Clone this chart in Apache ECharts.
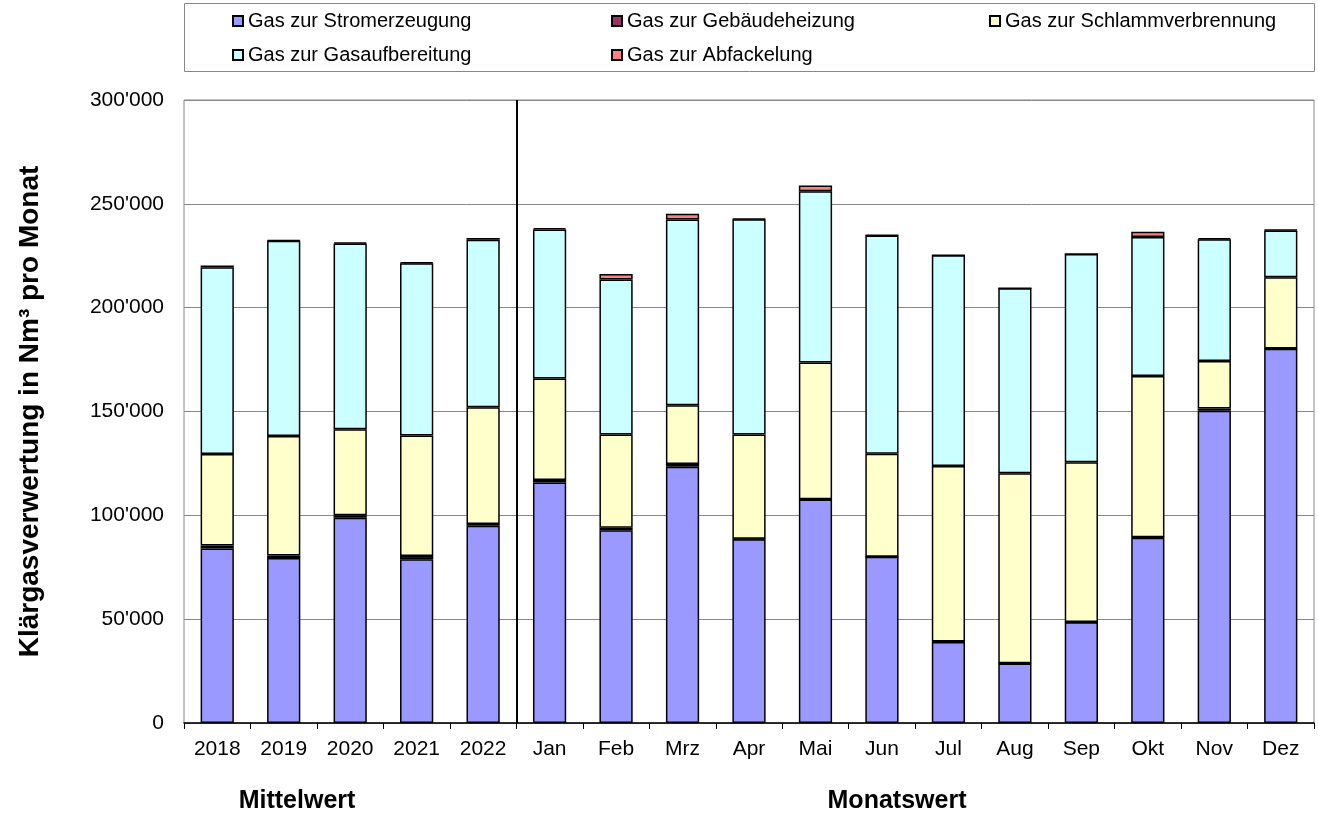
<!DOCTYPE html>
<html>
<head>
<meta charset="utf-8">
<title>Klärgasverwertung</title>
<script src="https://cdn.jsdelivr.net/npm/echarts@6/dist/echarts.min.js"></script>
<style>
html, body { margin: 0; padding: 0; background: #fff; }
#chart { width: 1318px; height: 819px; }
</style>
</head>
<body>
<div id="chart"></div>
<script>
const categories = ['2018', '2019', '2020', '2021', '2022', 'Jan', 'Feb', 'Mrz', 'Apr', 'Mai', 'Jun', 'Jul', 'Aug', 'Sep', 'Okt', 'Nov', 'Dez']
const stromerzeugung = [84000, 79500, 98800, 78800, 95000, 115800, 92800, 123400, 88500, 107600, 80000, 39000, 28700, 48500, 89200, 150400, 180200]
const gebaeudeheizung = [1500, 1200, 1200, 1600, 800, 1200, 1200, 1300, 200, 200, 100, 200, 100, 100, 200, 1000, 100]
const schlammverbrennung = [44000, 57500, 41400, 58000, 56300, 48900, 44900, 28300, 50200, 65800, 49500, 84600, 91500, 77000, 77700, 22900, 34400]
const gasaufbereitung = [90000, 94000, 89500, 83000, 80600, 71800, 74700, 89400, 103700, 82500, 105200, 101400, 89100, 100200, 66900, 58600, 22500]
const abfackelung = [800, 300, 500, 400, 800, 600, 2600, 2800, 300, 2700, 100, 100, 0, 0, 2500, 600, 300]

const seriesNames = ['Gas zur Stromerzeugung', 'Gas zur Gebäudeheizung', 'Gas zur Schlammverbrennung', 'Gas zur Gasaufbereitung', 'Gas zur Abfackelung']
const seriesColors = ['#9999ff', '#993366', '#ffffcc', '#ccffff', '#ff8080']
const seriesData = [stromerzeugung, gebaeudeheizung, schlammverbrennung, gasaufbereitung, abfackelung]

// yearly means come first, the monthly values after them
const yearCount = categories.filter((c) => /^\d{4}$/.test(c)).length

const font = "'Liberation Sans', Arial, sans-serif"

// legend is laid out in a 3 + 2 grid, one legend per slot
const legendSlots = [
  { left: 227, top: 6 },
  { left: 606, top: 6 },
  { left: 984, top: 6 },
  { left: 227, top: 40 },
  { left: 606, top: 40 },
]

function fmt(v) {
  return String(v).replace(/\B(?=(\d{3})+(?!\d))/g, "'")
}

const chart = echarts.init(document.getElementById('chart'))

const bottomLabel = { fill: '#000', font: "bold 25px 'Liberation Sans', Arial", align: 'center', verticalAlign: 'middle', textAlign: 'center', textVerticalAlign: 'middle' }

const option = {
  animation: false,
  textStyle: { fontFamily: font, color: '#000' },
  legend: seriesNames.map((name, i) => ({
    data: [name],
    left: legendSlots[i].left,
    top: legendSlots[i].top,
    icon: 'rect',
    itemWidth: 10,
    itemHeight: 10,
    selectedMode: false,
    textStyle: { fontSize: 20, color: '#000', fontFamily: font },
  })),
  graphic: [
    {
      type: 'rect',
      shape: { x: 184.5, y: 3.5, width: 1130, height: 68 },
      style: { fill: 'none', stroke: '#888', lineWidth: 1 },
      silent: true,
    },
    { type: 'text', x: 297, y: 801, style: Object.assign({ text: 'Mittelwert' }, bottomLabel) },
    { type: 'text', x: 897, y: 801, style: Object.assign({ text: 'Monatswert' }, bottomLabel) },
  ],
  grid: {
    left: 184,
    right: 4,
    top: 100,
    bottom: 96,
    show: true,
    borderColor: '#888',
    borderWidth: 1,
  },
  xAxis: [
    {
      type: 'category',
      data: categories,
      axisLine: { lineStyle: { color: '#000', width: 1.5 } },
      axisTick: { show: true, length: 6, interval: 0, lineStyle: { color: '#000' } },
      axisLabel: { fontSize: 21, color: '#000', margin: 16, interval: 0 },
    },
    // helper axis for the separator between Mittelwert and Monatswert
    { type: 'value', min: 0, max: categories.length, show: false },
  ],
  yAxis: {
    type: 'value',
    min: 0,
    max: 300000,
    interval: 50000,
    axisLine: { show: false },
    axisTick: { show: false },
    splitLine: { lineStyle: { color: '#888', width: 1 } },
    axisLabel: { fontSize: 21, color: '#000', margin: 20, formatter: fmt },
    name: 'Klärgasverwertung in Nm³ pro Monat',
    nameLocation: 'middle',
    nameGap: 140,
    nameTextStyle: { fontSize: 28, fontWeight: 'bold', color: '#000' },
  },
  series: seriesNames.map((name, i) => ({
    name: name,
    type: 'bar',
    stack: 'total',
    barWidth: '50%',
    data: seriesData[i],
    itemStyle: { color: seriesColors[i], borderColor: '#000', borderWidth: 1.5 },
    emphasis: { disabled: true },
  })).concat([
    {
      type: 'line',
      xAxisIndex: 1,
      data: [],
      silent: true,
      markLine: {
        symbol: 'none',
        silent: true,
        label: { show: false },
        lineStyle: { color: '#000', width: 2, type: 'solid' },
        data: [{ xAxis: yearCount }],
      },
    },
  ]),
}

chart.setOption(option)
</script>
</body>
</html>
